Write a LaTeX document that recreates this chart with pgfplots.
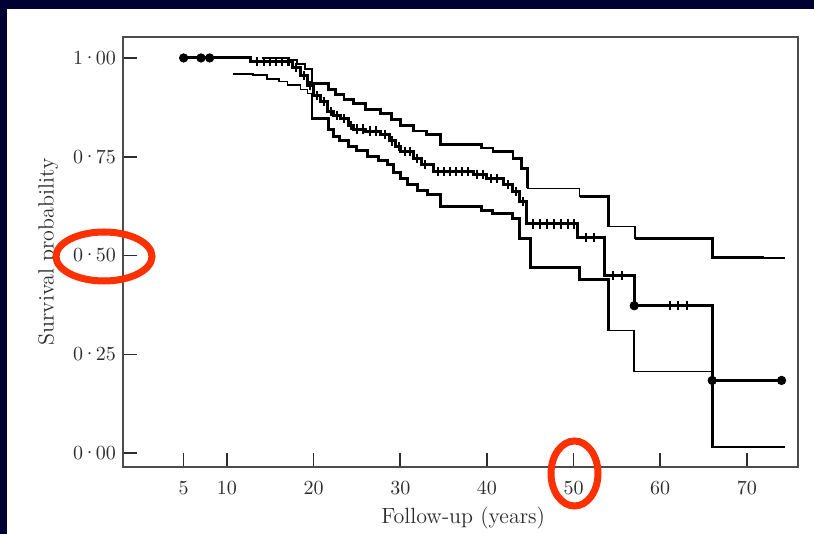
\documentclass[border=0pt]{standalone}
\usepackage{fontspec}
\usepackage{pgfplots}
\pgfplotsset{compat=1.18}
\definecolor{slidebg}{RGB}{0,0,51}
\definecolor{ringred}{RGB}{255,48,0}
\definecolor{inkgray}{RGB}{45,45,45}
\newcommand{\md}{\kern-0.7pt·\kern-0.7pt}

\begin{document}
\begin{tikzpicture}
\useasboundingbox (-61.5pt,-33.5pt) rectangle (345.5pt,233.5pt);
\fill[slidebg] (-61.5pt,-33.5pt) rectangle (345.5pt,233.5pt);
\fill[white] (-58pt,-33.5pt) rectangle (345.5pt,229pt);

\begin{axis}[
  scale only axis,
  width=337.5pt, height=215pt,
  xmin=-2, xmax=75.9, ymin=-0.035, ymax=1.053,
  xtick={5,10,20,30,40,50,60,70},
  ytick={0,0.25,0.5,0.75,1},
  yticklabels={\mbox{0\md00},\mbox{0\md25},\mbox{0\md50},\mbox{0\md75},\mbox{1\md00}},
  xtick pos=bottom, ytick pos=left,
  tick align=inside,
  major tick length=7pt,
  tick style={inkgray, line width=0.8pt},
  axis line style={black!70, line width=1pt},
  ticklabel style={font=\fontsize{10}{12}\selectfont, text=inkgray},
  xticklabel style={yshift=-4pt},
  xlabel={Follow-up (years)},
  ylabel={Survival probability},
  label style={font=\fontsize{11}{13}\selectfont, text=inkgray},
  xlabel style={at={(axis description cs:0.504,-0.1186)}, anchor=center},
  ylabel style={at={(axis description cs:-0.111,0.5)}, anchor=center},
  clip=false,
]
% Kaplan-Meier estimate
\addplot[const plot, black, line width=1.5pt] coordinates {
  (5,1.00) (12.7,0.99) (17.6,0.975) (18.5,0.955) (19.3,0.93) (20.0,0.905)
  (20.8,0.89) (21.6,0.865) (22.3,0.855) (23.1,0.846) (24.0,0.83) (24.6,0.82)
  (26.0,0.815) (27.7,0.806) (28.8,0.79) (29.5,0.775) (30.0,0.763) (31.5,0.746)
  (32.5,0.73) (33.8,0.713) (38.4,0.705) (40.0,0.695) (41.9,0.68) (43.0,0.662)
  (43.8,0.637) (44.6,0.58) (50.4,0.545) (53.6,0.45) (57.0,0.373) (66.0,0.184)
};
\addplot[const plot, black, line width=1.1pt] coordinates {(66.0,0.184) (74.0,0.184)};

% upper 95% limit
\addplot[const plot, black, line width=0.8pt] coordinates {
  (14,1.00) (17.0,0.995) (18.1,0.985) (19.0,0.972) (19.8,0.935) (21.7,0.92)
  (22.5,0.907) (23.5,0.895) (24.6,0.884) (26.0,0.87) (27.7,0.86) (29.0,0.845)
  (30.0,0.83) (31.5,0.815) (33.0,0.806) (34.6,0.78) (39.4,0.772) (40.7,0.763)
  (43.0,0.746) (44.0,0.72) (44.7,0.67) (50.7,0.65) (54.0,0.574) (57.1,0.544)
  (66.0,0.494) (74.4,0.494)
};
\addplot[const plot, black, line width=1.4pt] coordinates {
  (19.8,0.935) (21.7,0.92) (22.5,0.907) (23.5,0.895) (24.6,0.884) (26.0,0.87)
  (27.7,0.86) (29.0,0.845) (30.0,0.83) (31.5,0.815) (33.0,0.806) (34.6,0.78)
  (39.4,0.772) (40.7,0.763) (43.0,0.746) (44.0,0.72) (44.7,0.67)
};
\addplot[const plot, black, line width=1.5pt] coordinates {(50.7,0.65) (54.0,0.574)};
\addplot[const plot, black, line width=1.5pt] coordinates {(57.1,0.544) (66.0,0.494) (72.0,0.494)};

% lower 95% limit
\addplot[const plot, black, line width=0.8pt] coordinates {
  (10.7,0.96) (13.0,0.957) (14.6,0.947) (16.0,0.94) (17.0,0.932) (18.5,0.92)
  (19.3,0.91) (19.8,0.846) (21.7,0.82) (22.3,0.80) (23.0,0.79) (24.0,0.775)
  (25.0,0.765) (26.2,0.75) (27.5,0.74) (28.5,0.73) (29.2,0.71) (30.0,0.695)
  (30.8,0.68) (32.0,0.665) (33.1,0.655) (34.6,0.625) (39.4,0.615) (40.7,0.607)
  (43.0,0.594) (43.8,0.544) (45.0,0.47) (50.7,0.44) (54.0,0.31) (57.0,0.207)
  (66.0,0.015) (74.4,0.015)
};
\addplot[const plot, black, line width=1.5pt] coordinates {
  (19.8,0.846) (21.7,0.82) (22.3,0.80) (23.0,0.79) (24.0,0.775) (25.0,0.765)
  (26.2,0.75) (27.5,0.74) (28.5,0.73) (29.2,0.71) (30.0,0.695) (30.8,0.68)
  (32.0,0.665) (33.1,0.655) (34.6,0.625) (39.4,0.615) (40.7,0.607) (43.0,0.594)
  (43.8,0.544) (45.0,0.47) (50.7,0.44) (54.0,0.31)
};
\addplot[black, line width=1.5pt] coordinates {(66.0,0.207) (66.0,0.015)};
\addplot[const plot, black, line width=1.1pt] coordinates {(66.0,0.015) (74.4,0.015)};

% censored observations
\addplot[only marks, mark=|, mark size=2.3pt, black, line width=1pt] coordinates {
  (13.5,0.99) (14.3,0.99) (15,0.99) (15.7,0.99) (16.4,0.99) (17.1,0.99)
  (18,0.975) (18.9,0.955) (19.6,0.93) (20.4,0.905) (21.2,0.89) (22.0,0.865)
  (22.7,0.855) (23.5,0.846) (24.3,0.83) (25,0.82) (25.7,0.82) (26.5,0.815)
  (27.2,0.815) (28.2,0.806) (29.1,0.79) (29.8,0.775) (30.6,0.763) (31.1,0.763)
  (31.9,0.746) (32.9,0.73) (34.3,0.713) (35,0.713) (35.7,0.713) (36.4,0.713)
  (37.1,0.713) (37.8,0.713) (38.9,0.705) (39.5,0.705) (40.5,0.695) (41.2,0.695)
  (42.4,0.68) (43.4,0.662) (44.2,0.637) (45.3,0.58) (46.1,0.58) (46.9,0.58)
  (47.7,0.58) (48.5,0.58) (49.3,0.58) (50.0,0.58) (51.4,0.545) (52.4,0.545)
  (54.6,0.45) (55.6,0.45) (61.1,0.373) (62.1,0.373) (63.1,0.373)
};
\addplot[only marks, mark=*, mark size=2.1pt, black] coordinates {
  (5,1) (7,1) (8,1) (57.0,0.373) (66.0,0.184) (74.0,0.184)
};
\end{axis}

% highlight rings
\draw[ringred, line width=3.5pt] (-9.5pt,105.25pt) ellipse [x radius=24pt, y radius=12.25pt];
\draw[ringred, line width=3.5pt] (225.75pt,-3.25pt) ellipse [x radius=11.75pt, y radius=16.25pt];
\end{tikzpicture}
\end{document}
